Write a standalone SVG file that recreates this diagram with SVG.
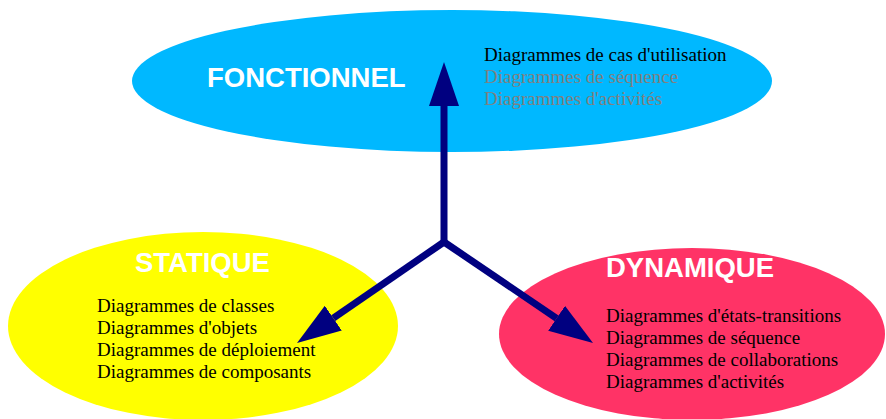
<svg xmlns="http://www.w3.org/2000/svg" width="886" height="419" viewBox="0 0 886 419">
<style>
.title{font-family:"Liberation Sans",Arial,sans-serif;font-weight:bold;font-size:27.5px;fill:#ffffff}
.item{font-family:"Liberation Serif","Times New Roman",serif;font-size:19px;fill:#000000}
.gray{fill:#808080}
.conn{stroke:#000080;stroke-width:7;fill:none;stroke-linejoin:miter}
</style>
<defs>
<marker id="ah" markerUnits="userSpaceOnUse" markerWidth="44" markerHeight="30" refX="0" refY="15" viewBox="0 0 44 30" orient="auto">
<path d="M0,0 L44,15 L0,30 Z" fill="#000080"/>
</marker>
</defs>
<rect width="886" height="419" fill="#ffffff"/>
<g id="fonctionnel">
<ellipse cx="452" cy="81" rx="320" ry="71" fill="#00b8ff"/>
<text class="title" x="207" y="87">FONCTIONNEL</text>
<text class="item" x="484" y="61">Diagrammes de cas d'utilisation</text>
<text class="item gray" x="484" y="83">Diagrammes de séquence</text>
<text class="item gray" x="484" y="105">Diagrammes d'activités</text>
</g>
<g id="statique">
<ellipse cx="203" cy="326" rx="195" ry="94" fill="#ffff00"/>
<text class="title" x="135" y="272">STATIQUE</text>
<text class="item" x="97" y="312">Diagrammes de classes</text>
<text class="item" x="97" y="334">Diagrammes d'objets</text>
<text class="item" x="97" y="356">Diagrammes de déploiement</text>
<text class="item" x="97" y="378">Diagrammes de composants</text>
</g>
<g id="dynamique">
<ellipse cx="692" cy="334" rx="193" ry="86" fill="#ff3366"/>
<text class="title" x="606" y="277">DYNAMIQUE</text>
<text class="item" x="606" y="322">Diagrammes d'états-transitions</text>
<text class="item" x="606" y="344">Diagrammes de séquence</text>
<text class="item" x="606" y="366">Diagrammes de collaborations</text>
<text class="item" x="606" y="388">Diagrammes d'activités</text>
</g>
<g id="connectors">
<line class="conn" x1="444" y1="242" x2="444" y2="106" marker-end="url(#ah)"/>
<line class="conn" x1="444" y1="242" x2="333.3" y2="318.1" marker-end="url(#ah)"/>
<line class="conn" x1="444" y1="242" x2="556.6" y2="318.3" marker-end="url(#ah)"/>
</g>
</svg>
